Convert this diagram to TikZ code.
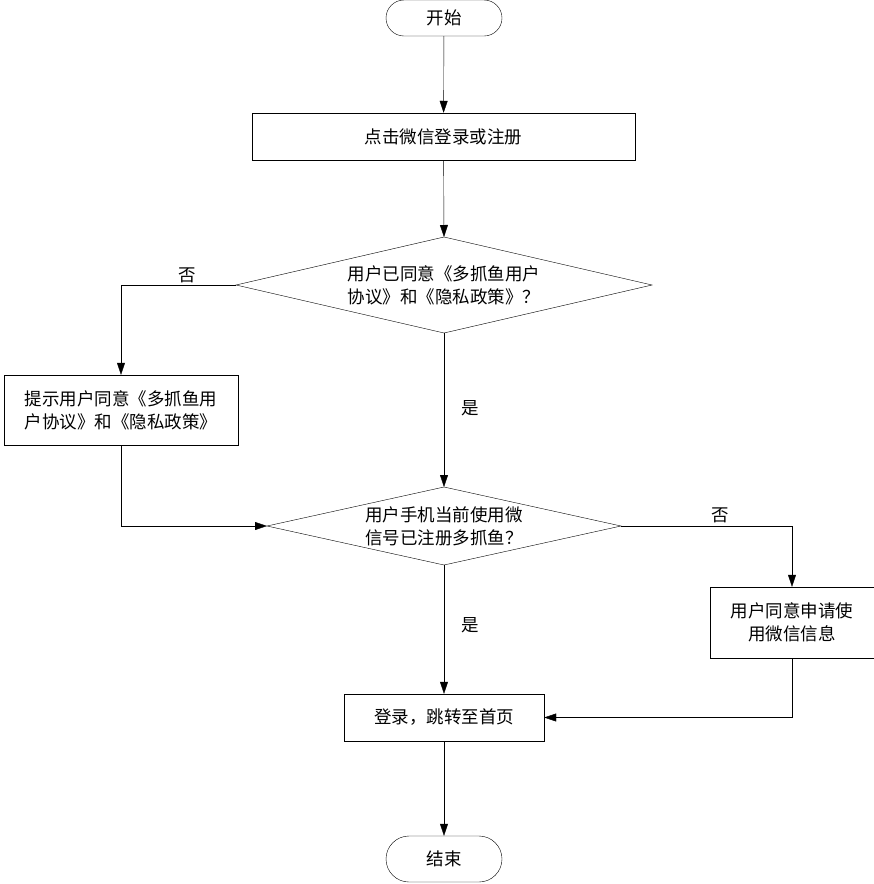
\documentclass[tikz,border=0pt]{standalone}
\usepackage{fontspec}
\newfontfamily\cjk{Noto Sans CJK SC}
\usetikzlibrary{shapes.geometric,arrows.meta}
\begin{document}
\begin{tikzpicture}[x=1pt,y=-1pt,
  every node/.style={font=\cjk\fontsize{17.5}{23}\selectfont,align=center,inner sep=0pt},
  term/.style={draw,rounded corners=18pt,minimum width=116pt,minimum height=36pt},
  box/.style={draw,rectangle},
  arr/.style={draw,-{Triangle[length=12pt,width=8pt]}},
  lab/.style={font=\cjk\fontsize{17.5}{21}\selectfont}]
\useasboundingbox (0,0) rectangle (874,884);
\node[term] (s) at (444,18) {开始};
\node[box,minimum width=383pt,minimum height=47pt] (b1) at (443.5,136.5) {点击微信登录或注册};
\draw (236,285) coordinate (d1w) -- (444,237) coordinate (d1n) -- (652,285) -- (444,333) coordinate (d1s) -- cycle;
\node (d1) at (444,285) {用户已同意《多抓鱼用户\\协议》和《隐私政策》？};
\node[box,minimum width=234pt,minimum height=70pt] (bl) at (121,410) {提示用户同意《多抓鱼用\\户协议》和《隐私政策》};
\draw (267,526) coordinate (d2w) -- (444,487) coordinate (d2n) -- (621,526) coordinate (d2e) -- (444,565) coordinate (d2s) -- cycle;
\node (d2) at (444,526) {用户手机当前使用微\\信号已注册多抓鱼？};
\node[box,minimum width=164pt,minimum height=71pt] (br) at (792,622.5) {用户同意申请使\\用微信信息};
\node[box,minimum width=200pt,minimum height=47pt] (bd) at (444,717.5) {登录，跳转至首页};
\node[term,minimum height=46pt,rounded corners=23pt] (e) at (444,859) {结束};
\draw[arr] (s) -- (b1);
\draw[arr] (b1) -- (d1n);
\draw[arr] (d1w) -| (bl);
\draw[arr] (d1s) -- (d2n);
\draw[arr] (bl.south) |- (d2w);
\draw[arr] (d2e) -| (br);
\draw[arr] (d2s) -- (bd);
\draw[arr] (br.south) |- (bd.east);
\draw[arr] (bd) -- (e);
\node[lab] (n1) at (187,275) {否};
\node[lab] (y1) at (470,408) {是};
\node[lab] (n2) at (720,515) {否};
\node[lab] (y2) at (470,625) {是};
\end{tikzpicture}
\end{document}
